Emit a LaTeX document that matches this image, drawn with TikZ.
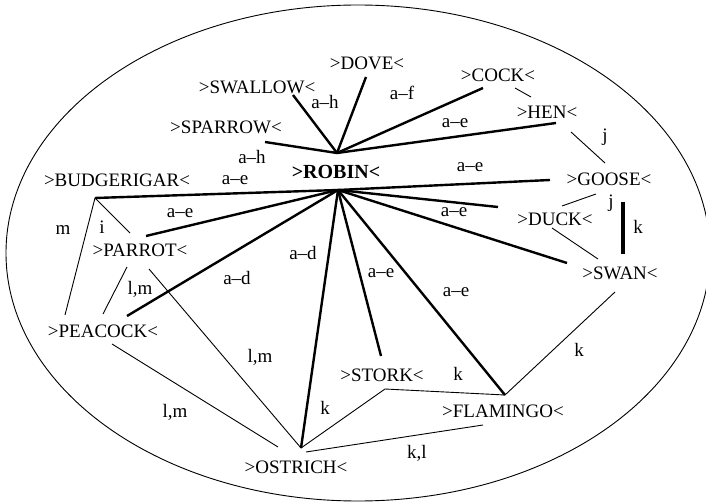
\documentclass[tikz,border=0pt]{standalone}
\usepackage{fontspec}
\setmainfont{Liberation Serif}
\begin{document}
\begin{tikzpicture}[x=1pt,y=-1pt,
  bird/.style={inner sep=0pt, font=\fontsize{19}{22}\selectfont},
  lab/.style={inner sep=0pt, font=\fontsize{19}{22}\selectfont},
  heavy/.style={line width=2.4pt},
  light/.style={line width=0.9pt}]
\useasboundingbox (0,0) rectangle (706,502);
% outer ellipse
\draw[line width=0.9pt] (358,253) ellipse [x radius=352, y radius=248];

% bird nodes
\node[bird] (swallow) at (257,87) {>SWALLOW<};
\node[bird] (dove) at (367,63) {>DOVE<};
\node[bird] (cock) at (498,75) {>COCK<};
\node[bird] (hen) at (547,112) {>HEN<};
\node[bird] (sparrow) at (226,127) {>SPARROW<};
\node[bird, font=\fontsize{20}{22}\selectfont\bfseries] (robin) at (336,172) {>ROBIN<};
\node[bird] (budgie) at (117,180) {>BUDGERIGAR<};
\node[bird] (goose) at (609,179) {>GOOSE<};
\node[bird] (duck) at (555,219) {>DUCK<};
\node[bird] (parrot) at (140,250) {>PARROT<};
\node[bird] (swan) at (620,273) {>SWAN<};
\node[bird] (peacock) at (103,331) {>PEACOCK<};
\node[bird] (stork) at (382,375) {>STORK<};
\node[bird] (flamingo) at (503,411) {>FLAMINGO<};
\node[bird] (ostrich) at (296,467) {>OSTRICH<};

% connector end points
\coordinate (hubU) at (337,153);
\coordinate (hubL) at (338,190);
\coordinate (swE) at (293,95);
\coordinate (spE) at (265,142);
\coordinate (dvE) at (366,77);
\coordinate (ckE) at (483,88);
\coordinate (hnE) at (556,123);
\coordinate (bgC) at (95,198);
\coordinate (gsE) at (550,180);
\coordinate (prE) at (146,236);
\coordinate (pcE) at (127,316);
\coordinate (osC) at (301,448);
\coordinate (stE) at (381,356);
\coordinate (flC) at (505,395);
\coordinate (dkE) at (498,207);
\coordinate (swnE) at (567,263);
\coordinate (ckH) at (515,88);
\coordinate (hnC) at (531,97);
\coordinate (hnG) at (571,132);
\coordinate (gsH) at (605,163);
\coordinate (gsD) at (596,194);
\coordinate (dkG) at (562,206);
\coordinate (dkS) at (552,228);
\coordinate (swD) at (598,259);
\coordinate (barT) at (623,202);
\coordinate (barB) at (623,254);
\coordinate (swF) at (615,292);
\coordinate (stC) at (385,389);
\coordinate (osF) at (306,452);
\coordinate (flO) at (483,425);
\coordinate (pcO) at (112,344);
\coordinate (osP) at (278,447);
\coordinate (prO) at (149,269);
\coordinate (prP) at (127,267);
\coordinate (pcP) at (103,314);
\coordinate (pcB) at (65,315);
\coordinate (prB) at (130,233);

% heavy connectors (from ROBIN)
\draw[heavy] (swE) -- (hubU);
\draw[heavy] (spE) -- (hubU);
\draw[heavy] (dvE) -- (hubU);
\draw[heavy] (ckE) -- (hubU);
\draw[heavy] (hnE) -- (hubU);
\draw[heavy] (bgC) -- (hubL);
\draw[heavy] (gsE) -- (hubL);
\draw[heavy] (prE) -- (hubL);
\draw[heavy] (pcE) -- (hubL);
\draw[heavy] (osC) -- (hubL);
\draw[heavy] (stE) -- (hubL);
\draw[heavy] (flC) -- (hubL);
\draw[heavy] (dkE) -- (hubL);
\draw[heavy] (swnE) -- (hubL);
\draw[line width=4pt] (barT) -- (barB);

% light connectors
\draw[light] (ckH) -- (hnC);
\draw[light] (hnG) -- (gsH);
\draw[light] (gsD) -- (dkG);
\draw[light] (dkS) -- (swD);
\draw[light] (swF) -- (flC);
\draw[light] (osC) -- (stC) -- (flC);
\draw[light] (osF) -- (flO);
\draw[light] (pcO) -- (osP);
\draw[light] (prO) -- (osC);
\draw[light] (prP) -- (pcP);
\draw[light] (bgC) -- (pcB);
\draw[light] (bgC) -- (prB);

% labels
\node[lab] (l1) at (325,102) {a--h};
\node[lab] (l2) at (402,93) {a--f};
\node[lab] (l3) at (455,123) {a--e};
\node[lab] (l4) at (605,137) {j};
\node[lab] (l5) at (252,157) {a--h};
\node[lab] (l6) at (235,180) {a--e};
\node[lab] (l7) at (470,167) {a--e};
\node[lab] (l8) at (454,212) {a--e};
\node[lab] (l9) at (611,203) {j};
\node[lab] (l10) at (638,227) {k};
\node[lab] (l11) at (180,213) {a--e};
\node[lab] (l12) at (63,230) {m};
\node[lab] (l13) at (102,227) {i};
\node[lab] (l14) at (140,289) {l,m};
\node[lab] (l15) at (237,278) {a--d};
\node[lab] (l16) at (303,253) {a--d};
\node[lab] (l17) at (381,273) {a--e};
\node[lab] (l18) at (456,292) {a--e};
\node[lab] (l19) at (260,357) {l,m};
\node[lab] (l20) at (175,412) {l,m};
\node[lab] (l21) at (325,408) {k};
\node[lab] (l22) at (458,374) {k};
\node[lab] (l23) at (579,350) {k};
\node[lab] (l24) at (417,453) {k,l};
\end{tikzpicture}
\end{document}
